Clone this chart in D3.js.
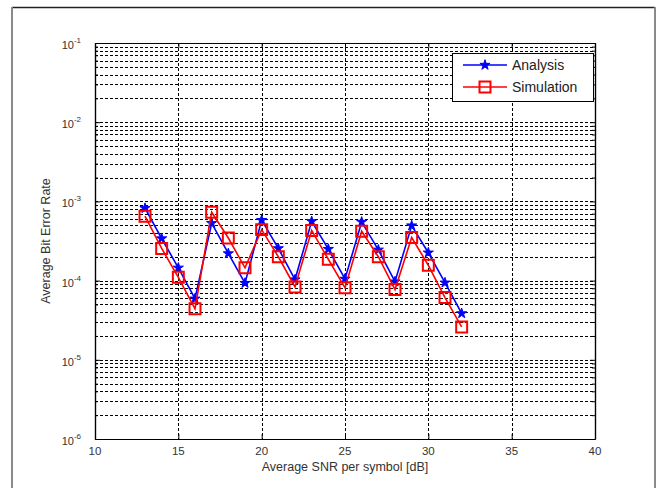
<!DOCTYPE html>
<html>
<head>
<meta charset="utf-8">
<script src="https://cdn.jsdelivr.net/npm/d3@7"></script>
<style>
  body { margin: 0; background: #fff; }
  svg { display: block; font-family: "Liberation Sans", Arial, sans-serif; }
</style>
</head>
<body>
<div id="chart"></div>
<script>
// data
const snr = [13, 14, 15, 16, 17, 18, 19, 20, 21, 22, 23, 24, 25, 26, 27, 28, 29, 30, 31, 32];
const analysis = [8.2e-4, 3.4e-4, 1.45e-4, 5.9e-5, 5.3e-4, 2.2e-4, 9.3e-5, 5.8e-4, 2.55e-4, 1.03e-4,
                  5.6e-4, 2.5e-4, 1.05e-4, 5.5e-4, 2.45e-4, 9.7e-5, 4.95e-4, 2.25e-4, 9.4e-5, 3.85e-5];
const simulation = [6.5e-4, 2.55e-4, 1.1e-4, 4.4e-5, 7.3e-4, 3.45e-4, 1.45e-4, 4.4e-4, 2.0e-4, 8.3e-5,
                    4.3e-4, 1.86e-4, 8.1e-5, 4.2e-4, 2.0e-4, 7.7e-5, 3.5e-4, 1.56e-4, 6.1e-5, 2.6e-5];
const xTicks = [10, 15, 20, 25, 30, 35, 40];
const yExponents = [-1, -2, -3, -4, -5, -6];
const seriesNames = ["Analysis", "Simulation"];
const seriesColors = ["#0000ff", "#ff0000"];

const W = 660, H = 488;
const margin = { left: 95, right: 65, top: 43, bottom: 49 };
const iw = W - margin.left - margin.right;
const ih = H - margin.top - margin.bottom;

const svg = d3.select("#chart").append("svg")
    .attr("width", W)
    .attr("height", H);

// figure frame
svg.append("line").attr("x1", 12).attr("x2", 655).attr("y1", 7.5).attr("y2", 7.5)
    .attr("stroke", "#222").attr("stroke-width", 1.5);
svg.append("line").attr("x1", 12).attr("x2", 12).attr("y1", 7).attr("y2", H)
    .attr("stroke", "#8a8a8a").attr("stroke-width", 2);
svg.append("line").attr("x1", 655).attr("x2", 655).attr("y1", 7).attr("y2", H)
    .attr("stroke", "#8a8a8a").attr("stroke-width", 2);

const x = d3.scaleLinear().domain([10, 40]).range([0, iw]);
const y = d3.scaleLog().domain([1e-6, 1e-1]).range([ih, 0]);

const g = svg.append("g").attr("transform", `translate(${margin.left},${margin.top})`);

// log grid values: majors and minors
const majors = yExponents.map(e => Math.pow(10, e));
const minors = [];
for (let e = -6; e < -1; e++) {
    for (let m = 2; m <= 9; m++) minors.push(m * Math.pow(10, e));
}

// grid
const grid = g.append("g").attr("class", "grid")
    .attr("stroke", "#000").attr("stroke-width", 1).attr("stroke-dasharray", "3,2");
grid.selectAll("line.gy")
    .data(majors.concat(minors).filter(v => v > 1e-6 && v < 1e-1))
    .enter().append("line")
    .attr("class", "gy")
    .attr("x1", 0).attr("x2", iw)
    .attr("y1", d => Math.round(y(d)) + 0.5)
    .attr("y2", d => Math.round(y(d)) + 0.5);
grid.selectAll("line.gx")
    .data(xTicks.slice(1, -1))
    .enter().append("line")
    .attr("class", "gx")
    .attr("y1", 0).attr("y2", ih)
    .attr("x1", d => Math.round(x(d)) + 0.5)
    .attr("x2", d => Math.round(x(d)) + 0.5);

// axes with inward ticks (box on)
const axBottom = d3.axisBottom(x).tickValues(xTicks).tickSizeInner(-5).tickSizeOuter(0).tickFormat("");
const axTop = d3.axisTop(x).tickValues(xTicks).tickSizeInner(-5).tickSizeOuter(0).tickFormat("");
const axLeft = d3.axisLeft(y).tickValues(majors).tickSizeInner(-5).tickSizeOuter(0).tickFormat("");
const axRight = d3.axisRight(y).tickValues(majors).tickSizeInner(-5).tickSizeOuter(0).tickFormat("");
const axLeftMinor = d3.axisLeft(y).tickValues(minors).tickSizeInner(-3).tickSizeOuter(0).tickFormat("");
const axRightMinor = d3.axisRight(y).tickValues(minors).tickSizeInner(-3).tickSizeOuter(0).tickFormat("");

g.append("g").attr("transform", `translate(0,${ih})`).call(axBottom);
g.append("g").call(axTop);
g.append("g").call(axLeft);
g.append("g").call(axLeftMinor);
g.append("g").attr("transform", `translate(${iw},0)`).call(axRight);
g.append("g").attr("transform", `translate(${iw},0)`).call(axRightMinor);
g.selectAll(".domain").attr("stroke", "#000").attr("stroke-width", 1.2);
g.selectAll(".tick line").attr("stroke", "#000");

// tick labels
g.selectAll("text.xl")
    .data(xTicks)
    .enter().append("text")
    .attr("class", "xl")
    .attr("x", d => x(d))
    .attr("y", ih + 16)
    .attr("text-anchor", "middle")
    .attr("font-size", 11.5)
    .attr("fill", "#333")
    .text(d => d);

const yl = g.selectAll("text.yl")
    .data(yExponents)
    .enter().append("text")
    .attr("class", "yl")
    .attr("x", -14)
    .attr("y", d => y(Math.pow(10, d)) + 6)
    .attr("text-anchor", "end")
    .attr("font-size", 11)
    .attr("fill", "#333");
yl.append("tspan").text("10");
yl.append("tspan").attr("dy", -6).attr("font-size", 8).text(d => d);

// axis titles
svg.append("text")
    .attr("x", margin.left + iw / 2)
    .attr("y", 471)
    .attr("text-anchor", "middle")
    .attr("font-size", 12.5)
    .attr("fill", "#333")
    .text("Average SNR per symbol [dB]");
svg.append("text")
    .attr("transform", `translate(50,${margin.top + ih / 2}) rotate(-90)`)
    .attr("text-anchor", "middle")
    .attr("font-size", 12.5)
    .attr("fill", "#333")
    .text("Average Bit Error Rate");

// series
const line = d3.line().x(d => x(d[0])).y(d => y(d[1]));
const star = d3.symbol().type(d3.symbolStar).size(32);
const sq = d3.symbol().type(d3.symbolSquare).size(120);

const aData = snr.map((s, i) => [s, analysis[i]]);
const sData = snr.map((s, i) => [s, simulation[i]]);

g.append("path").datum(aData)
    .attr("fill", "none").attr("stroke", seriesColors[0]).attr("stroke-width", 1.6)
    .attr("d", line);
g.selectAll("path.am").data(aData).enter().append("path")
    .attr("class", "am")
    .attr("transform", d => `translate(${x(d[0])},${y(d[1])})`)
    .attr("fill", seriesColors[0]).attr("stroke", seriesColors[0]).attr("stroke-width", 1)
    .attr("d", star);

g.append("path").datum(sData)
    .attr("fill", "none").attr("stroke", seriesColors[1]).attr("stroke-width", 1.6)
    .attr("d", line);
g.selectAll("path.sm").data(sData).enter().append("path")
    .attr("class", "sm")
    .attr("transform", d => `translate(${x(d[0])},${y(d[1])})`)
    .attr("fill", "none").attr("stroke", seriesColors[1]).attr("stroke-width", 2)
    .attr("d", sq);

// legend
const lg = svg.append("g").attr("transform", "translate(452,53)");
lg.append("rect").attr("x", 0.5).attr("y", 0.5).attr("width", 141).attr("height", 48)
    .attr("fill", "#fff").attr("stroke", "#000").attr("stroke-width", 1);
seriesNames.forEach((name, i) => {
    const ly = 12 + i * 22;
    lg.append("line").attr("x1", 11).attr("x2", 55).attr("y1", ly).attr("y2", ly)
        .attr("stroke", seriesColors[i]).attr("stroke-width", 1.6);
    lg.append("path")
        .attr("transform", `translate(33,${ly})`)
        .attr("d", i === 0 ? star : sq)
        .attr("fill", i === 0 ? seriesColors[0] : "none")
        .attr("stroke", seriesColors[i])
        .attr("stroke-width", i === 0 ? 1 : 2);
    lg.append("text").attr("x", 60).attr("y", ly + 5)
        .attr("font-size", 14).attr("fill", "#222")
        .text(name);
});
</script>
</body>
</html>
